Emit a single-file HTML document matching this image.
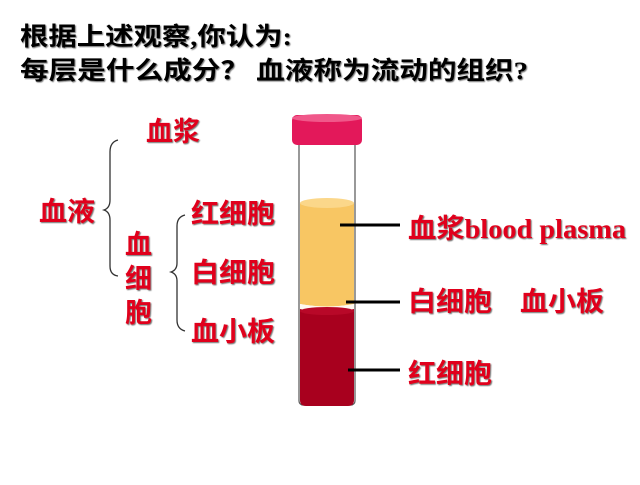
<!DOCTYPE html>
<html><head><meta charset="utf-8"><style>
html,body{margin:0;padding:0;background:#fff;}
svg text{font-family:"Liberation Serif","Noto Sans CJK SC",serif;font-weight:bold;}
.r{fill:#e0001b;font-size:27px;}
.k{fill:#000;font-size:25px;}
</style></head><body>
<svg width="640" height="480" viewBox="0 0 640 480" xmlns="http://www.w3.org/2000/svg">
<defs><filter id="sh"><feDropShadow dx="1" dy="1" stdDeviation="0.6" flood-color="#333" flood-opacity="0.7"/></filter></defs>
<g filter="url(#sh)">
<text class="k" x="20" y="45" textLength="272" lengthAdjust="spacingAndGlyphs">根据上述观察,你认为:</text>
<text class="k" x="20" y="79" textLength="508" lengthAdjust="spacingAndGlyphs">每层是什么成分？ 血液称为流动的组织?</text>
<text class="r" x="146" y="141" textLength="54" lengthAdjust="spacingAndGlyphs">血浆</text>
<text class="r" x="39" y="221" textLength="56" lengthAdjust="spacingAndGlyphs">血液</text>
<text class="r" x="125" y="254">血</text>
<text class="r" x="125" y="288">细</text>
<text class="r" x="125" y="322">胞</text>
<text class="r" x="191" y="223" textLength="84" lengthAdjust="spacingAndGlyphs">红细胞</text>
<text class="r" x="191" y="282" textLength="84" lengthAdjust="spacingAndGlyphs">白细胞</text>
<text class="r" x="191" y="341" textLength="84" lengthAdjust="spacingAndGlyphs">血小板</text>
<text class="r" x="408" y="238" textLength="218" lengthAdjust="spacingAndGlyphs">血浆blood plasma</text>
<text class="r" x="408" y="311" textLength="196" lengthAdjust="spacingAndGlyphs">白细胞　血小板</text>
<text class="r" x="408" y="383" textLength="84" lengthAdjust="spacingAndGlyphs">红细胞</text>
</g>
<path d="M118,140 Q110,142 110,152 L110,200 Q110,208 104,210 Q110,212 110,220 L110,266 Q110,275 118,276" fill="none" stroke="#333" stroke-width="1.3"/>
<path d="M185,215 Q177,217 177,226 L177,263 Q177,270 171,272 Q177,274 177,281 L177,320 Q177,329 185,331" fill="none" stroke="#333" stroke-width="1.3"/>
<rect x="299" y="140" width="56" height="265" rx="4" fill="#fff" stroke="#555" stroke-width="1.2"/>
<path d="M300,203 L354,203 L354,304 Q327,309 300,304 Z" fill="#f8c663"/>
<ellipse cx="327" cy="203" rx="27" ry="5" fill="#fbd78a"/>
<path d="M300,304 Q327,309 354,304 L354,309 L300,309 Z" fill="#fff8f0"/>
<path d="M300,309 Q327,315 354,309 L354,400 Q354,406 348,406 L306,406 Q300,406 300,400 Z" fill="#a8001e"/>
<ellipse cx="327" cy="311" rx="27" ry="4" fill="#b80828"/>
<rect x="292" y="115" width="70" height="30" rx="5" fill="#e3185a"/>
<ellipse cx="327" cy="118" rx="35" ry="4" fill="#f0588a"/>
<line x1="340" y1="225" x2="400" y2="225" stroke="#000" stroke-width="3"/>
<line x1="346" y1="302" x2="400" y2="302" stroke="#000" stroke-width="3"/>
<line x1="348" y1="370" x2="400" y2="370" stroke="#000" stroke-width="3"/>
</svg>
</body></html>
